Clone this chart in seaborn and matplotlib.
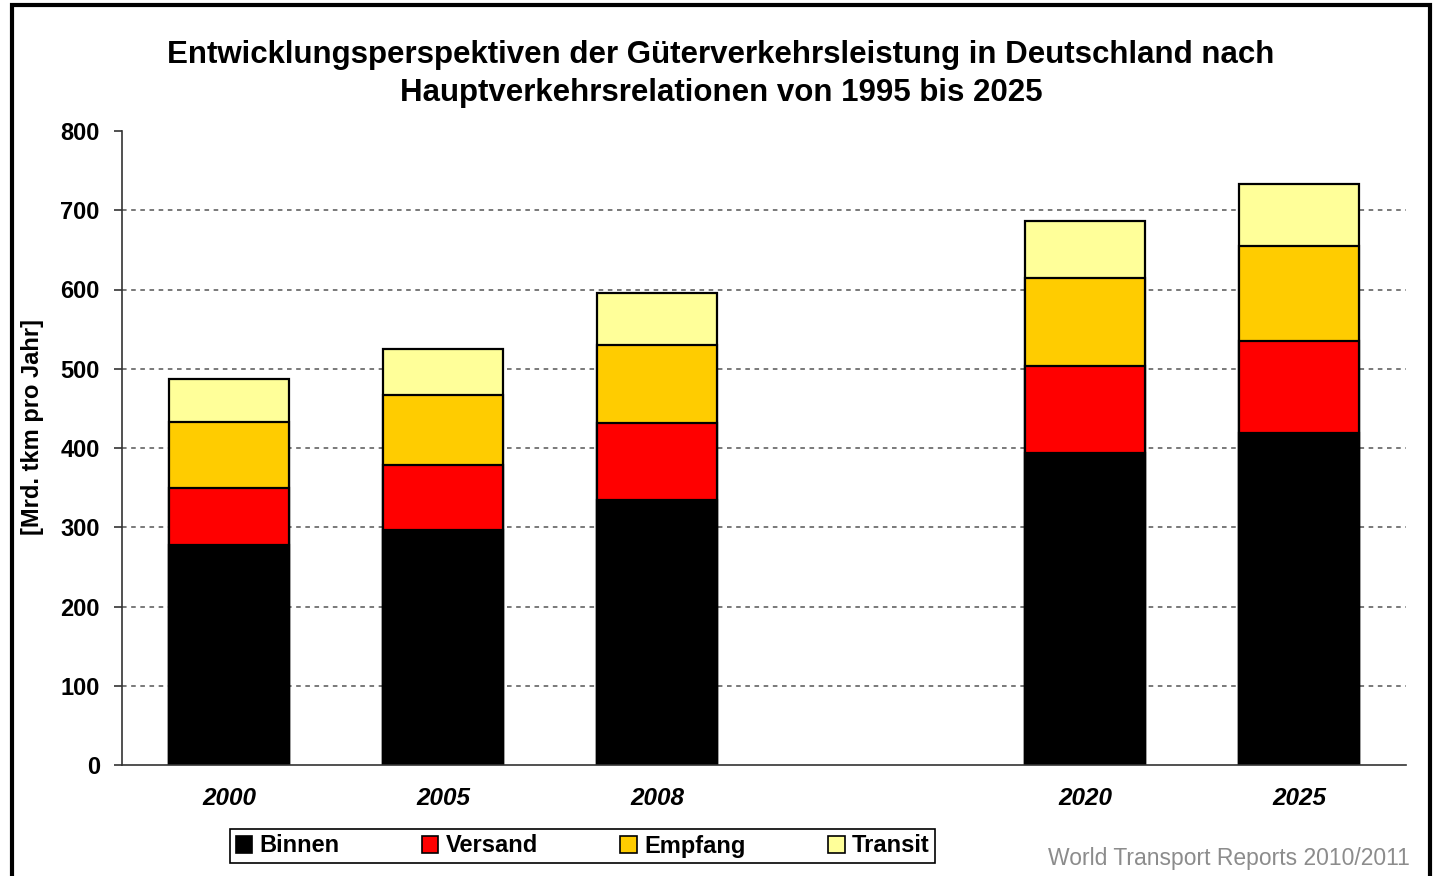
import matplotlib
matplotlib.use("Agg")
import matplotlib.pyplot as plt
from matplotlib.patches import Rectangle, Patch
import pandas as pd
import seaborn as sns

# Werte (Mrd. tkm pro Jahr)
jahre = ["2000", "2005", "2008", "2020", "2025"]
slots = ["2000", "2005", "2008", " ", "2020", "2025"]   # leerer Platz zwischen 2008 und 2020
binnen = [278, 296, 335, 394, 419]
versand = [72, 83, 97, 110, 116]
empfang = [83, 88, 98, 111, 120]
transit = [54, 58, 66, 72, 78]

serien = ["Binnen", "Versand", "Empfang", "Transit"]
farben = ["#000000", "#FF0000", "#FFCC00", "#FFFF99"]
yticks = [0, 100, 200, 300, 400, 500, 600, 700, 800]

df = pd.DataFrame({"Jahr": jahre, "Binnen": binnen, "Versand": versand,
                   "Empfang": empfang, "Transit": transit})
# kumulierte Summen fuer gestapelte Balken
cum = df[serien].cumsum(axis=1)
cum["Jahr"] = df["Jahr"]

sns.set_theme(style="white")
plt.rcParams["font.family"] = ["Liberation Sans", "DejaVu Sans"]
plt.rcParams["text.color"] = "black"
plt.rcParams["xtick.color"] = "black"
plt.rcParams["ytick.color"] = "black"
plt.rcParams["axes.labelcolor"] = "black"

fig = plt.figure(figsize=(14.33, 8.76), dpi=100)
ax = fig.add_axes([122 / 1433, 1 - 765 / 876, (1406 - 122) / 1433, (765 - 131) / 876])

for v in yticks[1:-1]:
    ax.axhline(v, ls=(0, (3, 3)), color="#555555", lw=1.1, zorder=0)

# von oben nach unten zeichnen, jede Schicht verdeckt die darueber liegende
for s, c in reversed(list(zip(serien, farben))):
    sns.barplot(data=cum, x="Jahr", y=s, order=slots, color=c, width=0.56,
                edgecolor="black", linewidth=1.6, saturation=1, ax=ax, zorder=2)

ax.set_xlim(-0.5, len(slots) - 0.5)
ax.set_ylim(0, 800)
ax.set_yticks(yticks)
ax.set_yticklabels([str(v) for v in yticks], fontsize=17, fontweight="bold")
ax.set_xticks(range(len(slots)))
ax.set_xticklabels(slots, fontsize=17.5, fontweight="bold", style="italic")
ax.set_xticks([i - 0.5 for i in range(len(slots) + 1)], minor=True)
ax.tick_params(axis="x", which="major", length=0, pad=16)
ax.tick_params(axis="x", which="minor", length=6, width=1.2, color="#333333", direction="out")
ax.tick_params(axis="y", length=6, width=1.2, color="#333333", direction="out", pad=10, left=True)
ax.set_xlabel("")
ax.set_ylabel("[Mrd. tkm pro Jahr]", fontsize=17, fontweight="bold")
ax.yaxis.set_label_coords(-0.061, 0.533)

for side in ["top", "right"]:
    ax.spines[side].set_visible(False)
for side in ["left", "bottom"]:
    ax.spines[side].set_color("#333333")
    ax.spines[side].set_linewidth(1.2)

fig.text(721 / 1433, 1 - 74 / 876,
         "Entwicklungsperspektiven der Güterverkehrsleistung in Deutschland nach\n"
         "Hauptverkehrsrelationen von 1995 bis 2025",
         ha="center", va="center", fontsize=22.5, fontweight="bold", linespacing=1.38)

handles = [Patch(facecolor=c, edgecolor="black", linewidth=1.2) for c in farben]
leg = fig.legend(handles, serien, ncol=4, loc="center", bbox_to_anchor=(582.5 / 1433, 1 - 846 / 876),
                 frameon=True, fancybox=False, edgecolor="black", framealpha=1,
                 prop={"size": 17, "weight": "bold"}, handlelength=0.7, handleheight=0.7,
                 handletextpad=0.3, columnspacing=3.5, borderpad=0.25)
leg.get_frame().set_linewidth(1.2)

fig.text(1410 / 1433, 1 - 858 / 876, "World Transport Reports 2010/2011", ha="right", va="center",
         fontsize=16.5, color="#8C8C8C")

fig.patches.append(Rectangle((12 / 1433, -0.05), (1430 - 12) / 1433, 1.05 - 5 / 876,
                             transform=fig.transFigure, fill=False, edgecolor="black", lw=3))

fig.savefig("out.png", dpi=100)
